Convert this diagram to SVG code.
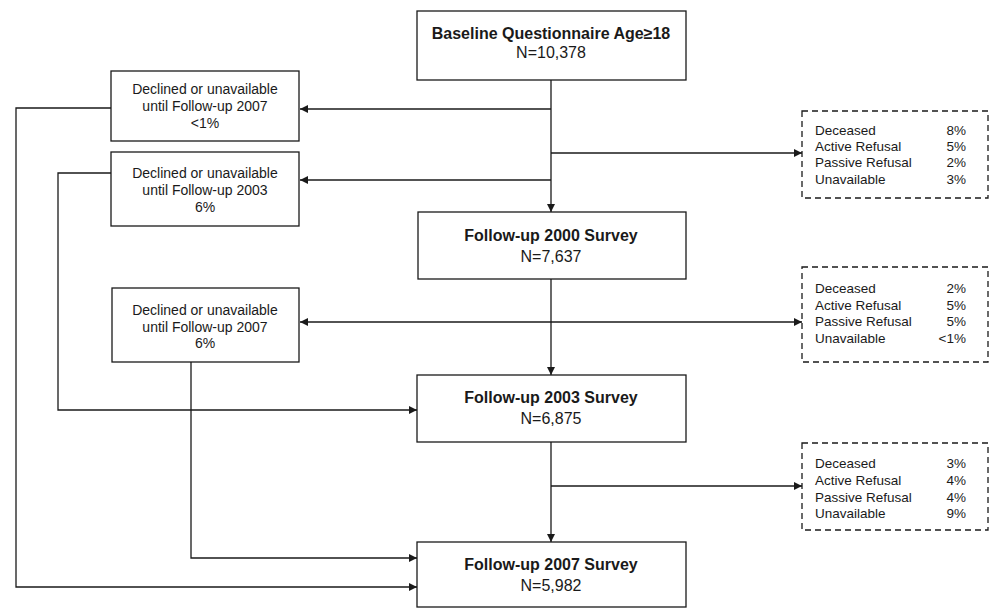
<svg xmlns="http://www.w3.org/2000/svg" width="990" height="609" viewBox="0 0 990 609">
<defs>
<marker id="ah" viewBox="0 0 10 10" refX="10" refY="5" markerWidth="8" markerHeight="8" markerUnits="userSpaceOnUse" orient="auto-start-reverse">
<path d="M0,0 L10,5 L0,10 z" fill="#1a1a1a"/>
</marker>
<style>
.box{fill:#fff;stroke:#1a1a1a;stroke-width:1.3}
.dbox{fill:#fff;stroke:#1a1a1a;stroke-width:1.3;stroke-dasharray:6,4}
.c{fill:none;stroke:#1a1a1a;stroke-width:1.3}
.t{font-family:"Liberation Sans",Arial,sans-serif;fill:#1a1a1a}
.b{font-size:16px;font-weight:bold;text-anchor:middle}
.n{font-size:16px;text-anchor:middle}
.s{font-size:14px;text-anchor:middle}
.d{font-size:13.5px}
.r{text-anchor:end}
</style>
</defs>
<rect width="990" height="609" fill="#fff"/>
<g id="connectors">
<line class="c" x1="551" y1="80" x2="551" y2="212" marker-end="url(#ah)"/>
<line class="c" x1="551" y1="109" x2="300" y2="109" marker-end="url(#ah)"/>
<line class="c" x1="551" y1="153" x2="802" y2="153" marker-end="url(#ah)"/>
<line class="c" x1="551" y1="180" x2="300" y2="180" marker-end="url(#ah)"/>
<line class="c" x1="551" y1="279" x2="551" y2="375" marker-end="url(#ah)"/>
<line class="c" x1="300" y1="322" x2="802" y2="322" marker-start="url(#ah)" marker-end="url(#ah)"/>
<line class="c" x1="551" y1="442" x2="551" y2="542" marker-end="url(#ah)"/>
<line class="c" x1="551" y1="486" x2="802" y2="486" marker-end="url(#ah)"/>
<polyline class="c" points="111,108 16,108 16,587 417,587" marker-end="url(#ah)"/>
<polyline class="c" points="111,173 58,173 58,410 417,410" marker-end="url(#ah)"/>
<polyline class="c" points="191,362 191,558 417,558" marker-end="url(#ah)"/>
</g>
<g id="baseline">
<rect class="box" x="417" y="11" width="269" height="69"/>
<text class="t b" x="551" y="39">Baseline Questionnaire Age≥18</text>
<text class="t n" x="551" y="58">N=10,378</text>
</g>
<g id="declined1">
<rect class="box" x="111" y="71" width="188" height="70"/>
<text class="t s" x="205" y="94">Declined or unavailable</text>
<text class="t s" x="205" y="111">until Follow-up 2007</text>
<text class="t s" x="205" y="128">&lt;1%</text>
</g>
<g id="declined2">
<rect class="box" x="111" y="152" width="188" height="74"/>
<text class="t s" x="205" y="178">Declined or unavailable</text>
<text class="t s" x="205" y="195">until Follow-up 2003</text>
<text class="t s" x="205" y="212">6%</text>
</g>
<g id="declined3">
<rect class="box" x="112" y="288" width="187" height="74"/>
<text class="t s" x="205" y="315">Declined or unavailable</text>
<text class="t s" x="205" y="332">until Follow-up 2007</text>
<text class="t s" x="205" y="348">6%</text>
</g>
<g id="loss1">
<rect class="dbox" x="802" y="111" width="186" height="87"/>
<text class="t d" x="815" y="135">Deceased</text>
<text class="t d" x="815" y="151">Active Refusal</text>
<text class="t d" x="815" y="167">Passive Refusal</text>
<text class="t d" x="815" y="184">Unavailable</text>
<text class="t d r" x="966" y="135">8%</text>
<text class="t d r" x="966" y="151">5%</text>
<text class="t d r" x="966" y="167">2%</text>
<text class="t d r" x="966" y="184">3%</text>
</g>
<g id="survey2000">
<rect class="box" x="418" y="212" width="268" height="67"/>
<text class="t b" x="551" y="241">Follow-up 2000 Survey</text>
<text class="t n" x="551" y="262">N=7,637</text>
</g>
<g id="loss2">
<rect class="dbox" x="802" y="267" width="186" height="95"/>
<text class="t d" x="815" y="293">Deceased</text>
<text class="t d" x="815" y="310">Active Refusal</text>
<text class="t d" x="815" y="326">Passive Refusal</text>
<text class="t d" x="815" y="343">Unavailable</text>
<text class="t d r" x="966" y="293">2%</text>
<text class="t d r" x="966" y="310">5%</text>
<text class="t d r" x="966" y="326">5%</text>
<text class="t d r" x="966" y="343">&lt;1%</text>
</g>
<g id="survey2003">
<rect class="box" x="417" y="375" width="269" height="67"/>
<text class="t b" x="551" y="403">Follow-up 2003 Survey</text>
<text class="t n" x="551" y="424">N=6,875</text>
</g>
<g id="loss3">
<rect class="dbox" x="802" y="443" width="186" height="87"/>
<text class="t d" x="815" y="468">Deceased</text>
<text class="t d" x="815" y="485">Active Refusal</text>
<text class="t d" x="815" y="502">Passive Refusal</text>
<text class="t d" x="815" y="518">Unavailable</text>
<text class="t d r" x="966" y="468">3%</text>
<text class="t d r" x="966" y="485">4%</text>
<text class="t d r" x="966" y="502">4%</text>
<text class="t d r" x="966" y="518">9%</text>
</g>
<g id="survey2007">
<rect class="box" x="417" y="542" width="269" height="65"/>
<text class="t b" x="551" y="570">Follow-up 2007 Survey</text>
<text class="t n" x="551" y="591">N=5,982</text>
</g>
</svg>
